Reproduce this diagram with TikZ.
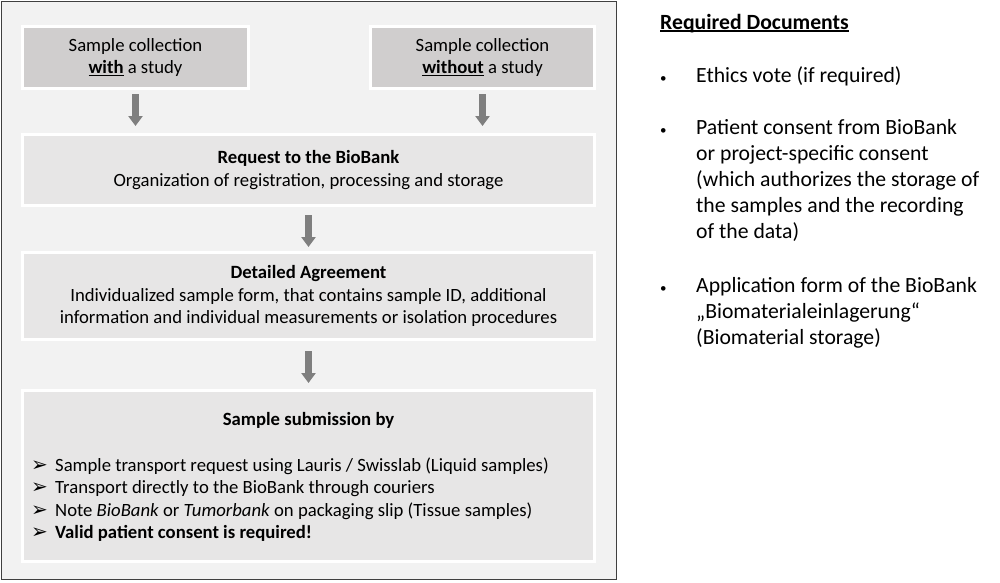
\documentclass[tikz,border=0pt]{standalone}
\usepackage{fontspec}
\setmainfont{Carlito}
\newfontfamily\markfont{DejaVu Sans}
\usetikzlibrary{arrows.meta}

\definecolor{panelgray}{HTML}{F2F2F2}
\definecolor{framegray}{HTML}{404040}
\definecolor{startgray}{HTML}{D0CECE}
\definecolor{stepgray}{HTML}{E7E6E6}
\definecolor{arrowgray}{HTML}{7F7F7F}

% bold word with a low underline
\newcommand\ulword[1]{\setbox0\hbox{\textbf{#1}}\rlap{\rule[-2.6pt]{\wd0}{1.4pt}}\box0\relax}

\tikzset{
  stepbox/.style={draw=white, fill=stepgray, line width=3pt, inner sep=0pt,
    align=center, font=\fontsize{18.7}{22.5}\selectfont},
  startbox/.style={stepbox, fill=startgray, minimum height=62pt},
  flow/.style={draw=arrowgray, line width=7pt, -{Triangle[width=14pt,length=10pt]},
    shorten <=4pt, shorten >=7pt},
  boxtext/.style={inner sep=0pt, anchor=base west, font=\fontsize{18.7}{22.5}\selectfont},
  doctext/.style={inner sep=0pt, anchor=base west, font=\fontsize{21.7}{26}\selectfont}
}

\begin{document}
\begin{tikzpicture}[x=1pt,y=-1pt]
    \useasboundingbox (0,0) rectangle (1000,582);

    % panel behind the flow
    \draw [framegray, fill=panelgray, line width=1.5pt] (1.5,1.5) rectangle (616.5,579.5);

    \coordinate (left)  at (135.5,57.5);
    \coordinate (right) at (482.5,57.5);

    \node (with) at (left) [startbox, minimum width=226pt]
        {Sample collection\\\ulword{with} a study};
    \node (without) at (right) [startbox, minimum width=224pt]
        {Sample collection\\\ulword{without} a study};
    \node (request) at (308.5,170) [stepbox, minimum width=572pt, minimum height=71pt]
        {\textbf{Request to the BioBank}\\Organization of registration, processing and storage};
    \node (agreement) at (308.5,296) [stepbox, minimum width=572pt, minimum height=87pt]
        {\textbf{Detailed Agreement}\\Individualized sample form, that contains sample ID, additional\\information and individual measurements or isolation procedures};
    \node (submission) at (308.5,476) [stepbox, minimum width=572pt, minimum height=171pt] {};

    \draw [flow] (with.south) -- (with.south |- request.north);
    \draw [flow] (without.south) -- (without.south |- request.north);
    \draw [flow, shorten <=8pt, shorten >=4pt] (request) -- (agreement);
    \draw [flow, shorten <=10pt, shorten >=6pt] (agreement) -- (submission);

    \node (subtitle) at (308.5,425) [boxtext, anchor=base] {\textbf{Sample submission by}};
    \foreach \y/\entry [count=\i] in {471/{Sample transport request using Lauris / Swisslab (Liquid samples)},
        493.5/{Transport directly to the BioBank through couriers},
        516/{Note \textit{BioBank} or \textit{Tumorbank} on packaging slip (Tissue samples)},
        538/{\textbf{Valid patient consent is required!}}}{
        \node (mark\i) at (31,\y) [boxtext] {\markfont\fontsize{20}{20}\selectfont ➢};
        \node (entry\i) at (55,\y) [boxtext] {\entry};
    }

    % required documents
    \node (docs) at (660,29) [doctext] {\ulword{Required Documents}};
    \foreach \y in {82,134,292} \node (dot\y) at (660,\y) [doctext, font=\fontsize{13}{13}\selectfont] {•};
    \foreach \y/\line [count=\i] in {82/{Ethics vote (if required)},
        134/{Patient consent from BioBank}, 160/{or project-specific consent},
        186/{(which authorizes the storage of}, 212/{the samples and the recording},
        238/{of the data)},
        292/{Application form of the BioBank}, 318/{„Biomaterialeinlagerung“},
        344/{(Biomaterial storage)}}
        \node (doc\i) at (696,\y) [doctext] {\line};
\end{tikzpicture}
\end{document}
